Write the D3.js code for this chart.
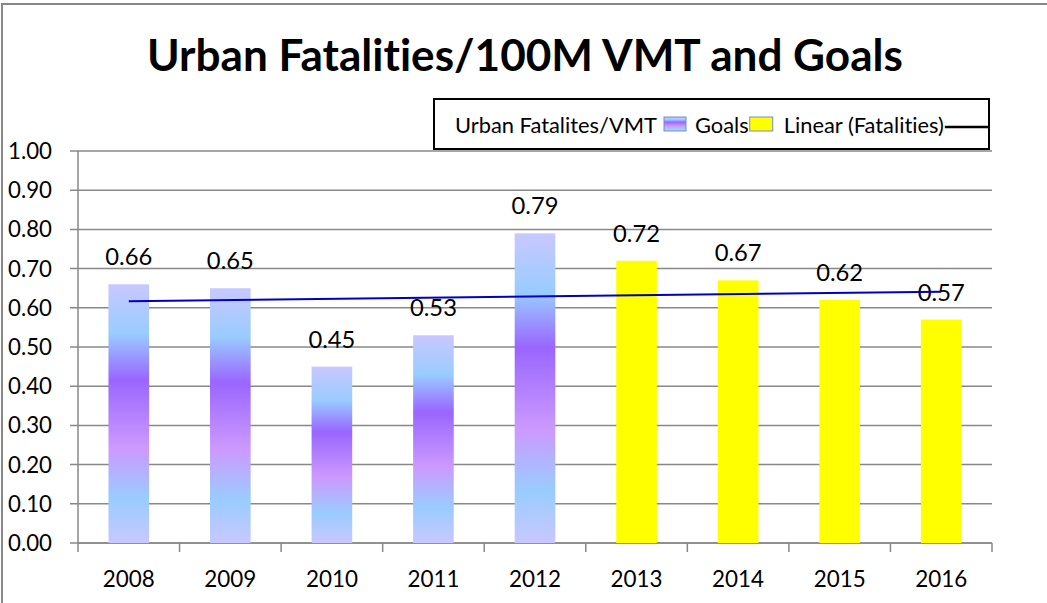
<!DOCTYPE html>
<html>
<head>
<meta charset="utf-8">
<script src="https://cdn.jsdelivr.net/npm/d3@7"></script>
<style>
  body { margin: 0; background: #fff; }
  svg { display: block; font-family: Lato, "Open Sans", sans-serif; font-variant-ligatures: none; }
</style>
</head>
<body>
<svg id="chart" width="1047" height="603"></svg>
<script>
// -----------
// chart data
// -----------

var years = ['2008', '2009', '2010', '2011', '2012', '2013', '2014', '2015', '2016'];
var fatalities = [0.66, 0.65, 0.45, 0.53, 0.79, null, null, null, null];
var goals = [null, null, null, null, null, 0.72, 0.67, 0.62, 0.57];
var yTicks = [0, 0.1, 0.2, 0.3, 0.4, 0.5, 0.6, 0.7, 0.8, 0.9, 1.0];
var legendLabels = ['Urban Fatalites/VMT', 'Goals', 'Linear (Fatalities)'];
var title = 'Urban Fatalities/100M VMT and Goals';

// plot area
var plot = { left: 78, right: 992, top: 151, bottom: 543 };
var GRID_COLOR = '#888888';

var svg = d3.select('#chart');

// font size that makes a sample string the given width
var sizeFor = function (sample, target) {
  var t = svg.append('text').attr('font-size', 20).text(sample);
  var w = t.node().getComputedTextLength();
  t.remove();
  return (20 * target / w).toFixed(2);
};

// shrink or grow a text element until it is the given width
var fitWidth = function (sel, target) {
  var size = parseFloat(sel.attr('font-size'));
  var w = sel.node().getComputedTextLength();
  sel.attr('font-size', (size * target / w).toFixed(2));
};

var yLabelSize = sizeFor('0.90', 44);
var xLabelSize = sizeFor('2008', 52);
var valueSize = sizeFor('0.66', 47);

// bar gradient used for the fatalities series
var defs = svg.append('defs');
var grad = defs.append('linearGradient')
  .attr('id', 'fatalGrad')
  .attr('x1', 0).attr('y1', 0).attr('x2', 0).attr('y2', 1);
[[0, '#c8c8ff'], [0.19, '#99ccff'], [0.37, '#9966ff'], [0.63, '#cc99ff'], [0.83, '#99ccff'], [1, '#c8c8ff']]
  .forEach(function (s) {
    grad.append('stop').attr('offset', s[0]).attr('stop-color', s[1]);
  });

// chart border
svg.append('rect')
  .attr('x', 2).attr('y', 4)
  .attr('width', 1060).attr('height', 620)
  .attr('fill', '#fff')
  .attr('stroke', GRID_COLOR)
  .attr('stroke-width', 2);

// title
var titleText = svg.append('text')
  .attr('x', 525)
  .attr('y', 71)
  .attr('text-anchor', 'middle')
  .attr('font-size', 40)
  .attr('font-weight', 'bold')
  .attr('fill', '#000')
  .text(title);
fitWidth(titleText, 756);

// ------
// scales
// ------

var x = d3.scaleBand()
  .domain(years)
  .range([plot.left, plot.right])
  .paddingInner(0.6)
  .paddingOuter(0.3);

var y = d3.scaleLinear()
  .domain([0, 1])
  .range([plot.bottom, plot.top]);

// gridlines and y labels
var grid = svg.append('g').attr('class', 'grid');
grid.selectAll('line')
  .data(yTicks)
  .enter().append('line')
  .attr('x1', plot.left - 8)
  .attr('x2', plot.right)
  .attr('y1', function (d) { return y(d); })
  .attr('y2', function (d) { return y(d); })
  .attr('stroke', GRID_COLOR)
  .attr('stroke-width', 1.5);

grid.selectAll('text')
  .data(yTicks)
  .enter().append('text')
  .attr('x', 52)
  .attr('y', function (d) { return y(d); })
  .attr('dy', '0.36em')
  .attr('text-anchor', 'end')
  .attr('font-size', yLabelSize)
  .attr('fill', '#000')
  .text(d3.format('.2f'));

// y axis line
svg.append('line')
  .attr('x1', plot.left).attr('x2', plot.left)
  .attr('y1', plot.top).attr('y2', plot.bottom)
  .attr('stroke', GRID_COLOR)
  .attr('stroke-width', 1.5);

// x axis: ticks between categories, labels centred
var xAxis = svg.append('g')
  .attr('transform', 'translate(0,' + plot.bottom + ')');

xAxis.append('line')
  .attr('x1', plot.left).attr('x2', plot.right)
  .attr('stroke', GRID_COLOR)
  .attr('stroke-width', 1.5);

var step = x.step();
var bounds = d3.range(years.length + 1).map(function (i) { return plot.left + i * step; });
xAxis.selectAll('line.tick')
  .data(bounds)
  .enter().append('line')
  .attr('class', 'tick')
  .attr('x1', function (d) { return d; })
  .attr('x2', function (d) { return d; })
  .attr('y1', 0).attr('y2', 9)
  .attr('stroke', GRID_COLOR)
  .attr('stroke-width', 1.5);

xAxis.selectAll('text')
  .data(years)
  .enter().append('text')
  .attr('x', function (d) { return x(d) + x.bandwidth() / 2; })
  .attr('y', 44)
  .attr('text-anchor', 'middle')
  .attr('font-size', xLabelSize)
  .attr('fill', '#000')
  .text(function (d) { return d; });

// ----
// bars
// ----

var points = years.map(function (yr, i) {
  var isGoal = fatalities[i] === null;
  return { year: yr, value: isGoal ? goals[i] : fatalities[i], goal: isGoal };
});

var bars = svg.append('g').attr('class', 'bars');
bars.selectAll('rect')
  .data(points)
  .enter().append('rect')
  .attr('x', function (d) { return x(d.year); })
  .attr('width', x.bandwidth())
  .attr('y', function (d) { return y(d.value); })
  .attr('height', function (d) { return y(0) - y(d.value); })
  .attr('fill', function (d) { return d.goal ? '#ffff00' : 'url(#fatalGrad)'; });

// value labels
bars.selectAll('text')
  .data(points)
  .enter().append('text')
  .attr('x', function (d) { return x(d.year) + x.bandwidth() / 2; })
  .attr('y', function (d) { return y(d.value) - 19; })
  .attr('text-anchor', 'middle')
  .attr('font-size', valueSize)
  .attr('fill', '#000')
  .text(function (d) { return d3.format('.2f')(d.value); });

// linear trend over all the points
var n = points.length;
var mx = d3.mean(points, function (d, i) { return i; });
var my = d3.mean(points, function (d) { return d.value; });
var sxy = d3.sum(points, function (d, i) { return (i - mx) * (d.value - my); });
var sxx = d3.sum(points, function (d, i) { return (i - mx) * (i - mx); });
var slope = sxy / sxx;
var trend = [0, n - 1].map(function (i) {
  return [x(years[i]) + x.bandwidth() / 2, y(my + slope * (i - mx))];
});

svg.append('path')
  .attr('d', d3.line()(trend))
  .attr('fill', 'none')
  .attr('stroke', '#0000c0')
  .attr('stroke-width', 2);

// ------
// legend
// ------

var legend = svg.append('g').attr('class', 'legend');
legend.append('rect')
  .attr('x', 434).attr('y', 99)
  .attr('width', 555).attr('height', 50)
  .attr('fill', '#fff')
  .attr('stroke', '#000')
  .attr('stroke-width', 2);

var t1 = legend.append('text')
  .attr('x', 455).attr('y', 133)
  .attr('font-size', 19)
  .text(legendLabels[0]);
fitWidth(t1, 202);
var fs = t1.attr('font-size');
var cx = 455 + 202 + 7;

legend.append('rect')
  .attr('x', cx).attr('y', 117)
  .attr('width', 22).attr('height', 14)
  .attr('fill', 'url(#fatalGrad)')
  .attr('stroke', '#7a8acc');
cx += 31;

var t2 = legend.append('text')
  .attr('x', cx).attr('y', 133)
  .attr('font-size', fs)
  .text(legendLabels[1]);
cx += t2.node().getComputedTextLength() + 1;

legend.append('rect')
  .attr('x', cx).attr('y', 117)
  .attr('width', 23).attr('height', 14)
  .attr('fill', '#ffff00')
  .attr('stroke', '#7a8acc');
cx += 34;

var t3 = legend.append('text')
  .attr('x', cx).attr('y', 133)
  .attr('font-size', fs)
  .text(legendLabels[2]);
cx += t3.node().getComputedTextLength() + 1;

legend.append('line')
  .attr('x1', cx).attr('x2', 989)
  .attr('y1', 127).attr('y2', 127)
  .attr('stroke', '#000')
  .attr('stroke-width', 2.5);
</script>
</body>
</html>
